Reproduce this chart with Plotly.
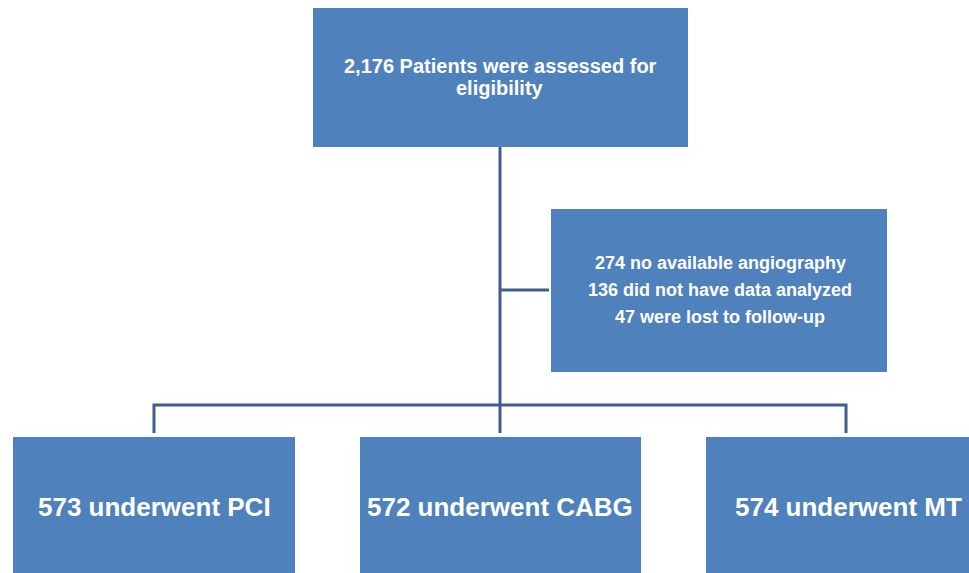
import plotly.graph_objects as go

# Flowchart content
box_lines = [
    ["2,176 Patients were assessed for", "eligibility"],
    ["274 no available angiography", "136 did not have data analyzed", "47 were lost to follow-up"],
    ["573 underwent PCI"],
    ["572 underwent CABG"],
    ["574 underwent MT"],
]

# Layout specs (pixel coordinates, y from top)
box_rects = [
    (313, 8, 688, 147),
    (551, 209, 887, 372),
    (13, 437, 295, 573),
    (360, 437, 641, 573),
    (706, 437, 969, 573),
]
text_x = [500, 720, 154, 500, 848]
text_y0 = [66, 263, 507, 507, 507]
line_step = [21.5, 27, 0, 0, 0]
font_sizes = [20, 18, 26, 26, 26]

BOX = "#4f81bd"
LINE = "#3f5e8c"

fig = go.Figure()
shapes = []
for (x0, y0, x1, y1) in box_rects:
    shapes.append(dict(type="rect", xref="x", yref="y", x0=x0, y0=y0, x1=x1, y1=y1,
                       fillcolor=BOX, line=dict(width=0), layer="below"))

connectors = [
    [(500, 147), (500, 405)],
    [(500, 290), (549, 290)],
    [(154, 433), (154, 405), (846, 405), (846, 433)],
    [(500, 405), (500, 433)],
]
for pts in connectors:
    path = "M " + " L ".join(f"{x},{y}" for x, y in pts)
    shapes.append(dict(type="path", xref="x", yref="y", path=path,
                       line=dict(color=LINE, width=3)))

annotations = []
for lines, x, y0, st, fs in zip(box_lines, text_x, text_y0, line_step, font_sizes):
    for i, lab in enumerate(lines):
        annotations.append(dict(x=x, y=y0 + i * st, xref="x", yref="y", text=f"<b>{lab}</b>",
                                showarrow=False, align="center",
                                font=dict(family="Liberation Sans, Arial", size=fs, color="white")))

fig.update_layout(
    width=969, height=573,
    margin=dict(l=0, r=0, t=0, b=0),
    paper_bgcolor="white", plot_bgcolor="white",
    xaxis=dict(range=[0, 969], visible=False, fixedrange=True),
    yaxis=dict(range=[573, 0], visible=False, fixedrange=True),
    shapes=shapes, annotations=annotations, showlegend=False,
)
fig.write_html("out.html", config={"displayModeBar": False},
               post_script="document.body.style.margin='0';document.body.style.overflow='hidden';")
